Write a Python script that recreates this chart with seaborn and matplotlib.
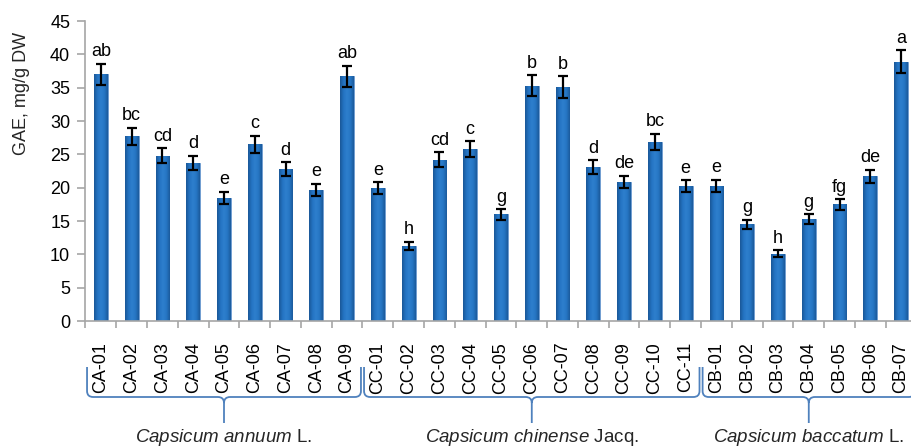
import numpy as np
import pandas as pd
import seaborn as sns
import matplotlib
matplotlib.use("Agg")
import matplotlib.pyplot as plt
from matplotlib.path import Path
from matplotlib.patches import PathPatch
from matplotlib.colors import LinearSegmentedColormap
import matplotlib.transforms as mtransforms

# --- data -------------------------------------------------------------
accessions = ["CA-01", "CA-02", "CA-03", "CA-04", "CA-05", "CA-06", "CA-07", "CA-08", "CA-09",
              "CC-01", "CC-02", "CC-03", "CC-04", "CC-05", "CC-06", "CC-07", "CC-08", "CC-09",
              "CC-10", "CC-11",
              "CB-01", "CB-02", "CB-03", "CB-04", "CB-05", "CB-06", "CB-07"]
gae = [37.0, 27.7, 24.8, 23.7, 18.5, 26.5, 22.8, 19.7, 36.7,
       19.9, 11.3, 24.2, 25.8, 16.0, 35.3, 35.1, 23.1, 20.9, 26.9, 20.2,
       20.3, 14.5, 10.1, 15.3, 17.5, 21.7, 38.9]
gae_err = [1.6, 1.3, 1.1, 1.1, 0.9, 1.3, 1.0, 0.9, 1.6,
           0.9, 0.6, 1.1, 1.2, 0.8, 1.6, 1.6, 1.0, 0.9, 1.2, 0.9,
           0.9, 0.7, 0.5, 0.7, 0.8, 1.0, 1.7]
letters = ["ab", "bc", "cd", "d", "e", "c", "d", "e", "ab",
           "e", "h", "cd", "c", "g", "b", "b", "d", "de", "bc", "e",
           "e", "g", "h", "g", "fg", "de", "a"]
species = [r"$\mathit{Capsicum\ annuum}$ L.",
           r"$\mathit{Capsicum\ chinense}$ Jacq.",
           r"$\mathit{Capsicum\ baccatum}$ L."]
species_size = [9, 11, 7]

df = pd.DataFrame({"accession": accessions, "gae": gae})

# --- style ------------------------------------------------------------
sns.set_theme(style="white")
plt.rcParams["font.family"] = ["Liberation Sans", "DejaVu Sans"]
plt.rcParams["mathtext.fontset"] = "custom"
plt.rcParams["mathtext.it"] = "Liberation Sans:italic"
plt.rcParams["mathtext.rm"] = "Liberation Sans"

FS = 13
W, H = 912, 446
fig = plt.figure(figsize=(W / 100, H / 100), dpi=100)
ax_left, ax_right = 85.5 / W, 916.5 / W
ax_bottom, ax_top = 1 - 321 / H, 1 - 21 / H
ax = fig.add_axes([ax_left, ax_bottom, ax_right - ax_left, ax_top - ax_bottom])

bar_blue = "#1f6fbf"
sns.barplot(data=df, x="accession", y="gae", color=bar_blue, width=0.45,
            saturation=1, ax=ax, edgecolor="#6e9bcf", linewidth=0.6)

# horizontal shading inside each bar
shade = LinearSegmentedColormap.from_list(
    "barshade", ["#1a5797", "#2473c2", "#2e7fcd", "#2676c4", "#1b5a9c"])
grad = np.linspace(0, 1, 64).reshape(1, -1)
for patch in ax.patches:
    x0, y0 = patch.get_x(), patch.get_y()
    w, h = patch.get_width(), patch.get_height()
    im = ax.imshow(grad, cmap=shade, aspect="auto", extent=[x0, x0 + w, y0, y0 + h],
                   zorder=patch.get_zorder() + 0.1, interpolation="bilinear")
    im.set_clip_path(patch)

xpos = np.arange(len(accessions))
ax.errorbar(xpos, gae, yerr=gae_err, fmt="none", ecolor="black", elinewidth=1.6,
            capsize=3.3, capthick=1.6, zorder=5)

for x, v, e, lab in zip(xpos, gae, gae_err, letters):
    ax.annotate(lab, (x, v + e), xytext=(0, 2.5), textcoords="offset points",
                ha="center", va="bottom", fontsize=FS, color="black")

ax.set_xlim(-0.5, len(accessions) - 0.5)
ax.set_ylim(0, 45)
ax.set_yticks(np.arange(0, 46, 5))
ax.set_xlabel("")
ax.set_ylabel("")

axis_grey = "#a6a6a6"
for side in ["top", "right"]:
    ax.spines[side].set_visible(False)
for side in ["left", "bottom"]:
    ax.spines[side].set_color(axis_grey)
    ax.spines[side].set_linewidth(1.2)

ax.tick_params(axis="y", which="major", direction="out", length=6, width=1.2,
               color=axis_grey, pad=5, labelsize=FS, labelcolor="black", left=True)
ax.set_xticks(xpos)
ax.set_xticklabels(accessions, rotation=90, fontsize=FS)
ax.tick_params(axis="x", which="major", length=0, pad=15, labelcolor="black")
ax.set_xticks(np.arange(-0.5, len(accessions), 1.0), minor=True)
ax.tick_params(axis="x", which="minor", direction="out", length=5, width=1.2,
               color=axis_grey, bottom=True)

fig.text(22 / W, 1 - 93 / H, "GAE, mg/g DW", rotation=90, ha="center", va="center",
         fontsize=FS)

# --- species braces under the accession labels ------------------------
trans = mtransforms.blended_transform_factory(ax.transData, fig.transFigure)
brace_blue = "#4f81bd"
y_top, y_line, y_tip = 1 - 367 / H, 1 - 397 / H, 1 - 423 / H
r_y = 6 / H
r_x = 0.2


def draw_brace(x0, x1):
    xm = (x0 + x1) / 2
    verts = [(x0, y_top), (x0, y_line + r_y),
             (x0, y_line), (x0 + r_x, y_line),
             (xm - r_x, y_line),
             (xm, y_line), (xm, y_line - r_y),
             (xm, y_tip),
             (xm, y_line - r_y),
             (xm, y_line), (xm + r_x, y_line),
             (x1 - r_x, y_line),
             (x1, y_line), (x1, y_line + r_y),
             (x1, y_top)]
    codes = [Path.MOVETO, Path.LINETO,
             Path.CURVE3, Path.CURVE3,
             Path.LINETO,
             Path.CURVE3, Path.CURVE3,
             Path.LINETO,
             Path.MOVETO,
             Path.CURVE3, Path.CURVE3,
             Path.LINETO,
             Path.CURVE3, Path.CURVE3,
             Path.LINETO]
    fig.add_artist(PathPatch(Path(verts, codes), transform=trans, fill=False,
                             edgecolor=brace_blue, linewidth=1.3, clip_on=False))
    return xm


start = -0.5
for name, n in zip(species, species_size):
    xm = draw_brace(start + 0.05, start + n - 0.05)
    fig.text(xm, 1 - 437 / H, name, transform=trans, ha="center", va="center",
             fontsize=13.5)
    start += n

fig.savefig("out.png", dpi=100)
